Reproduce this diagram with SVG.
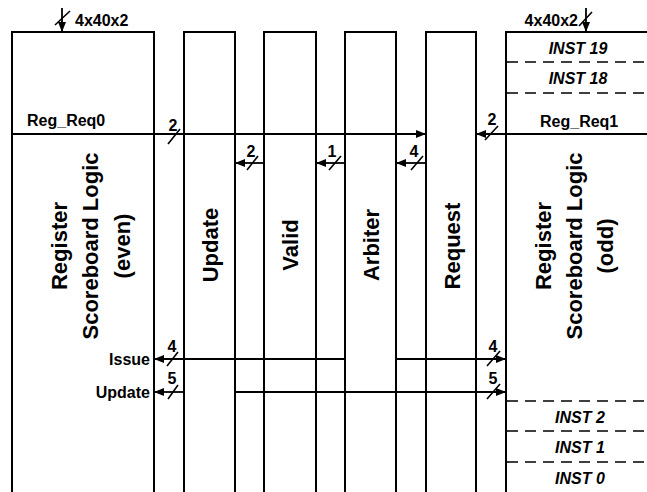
<svg xmlns="http://www.w3.org/2000/svg" width="647" height="492" viewBox="0 0 647 492">
<style>
  .box { fill: none; stroke: #000; stroke-width: 2; }
  .ln { fill: none; stroke: #000; stroke-width: 1.8; }
  .sl { fill: none; stroke: #000; stroke-width: 1.6; }
  .dash { fill: none; stroke: #000; stroke-width: 1.6; stroke-dasharray: 11 7; }
  .t { font-family: "Liberation Sans", Arial, sans-serif; font-weight: bold; fill: #000; }
  .s16 { font-size: 16px; }
  .big { font-size: 22px; }
  .inst { font-family: "Liberation Sans", Arial, sans-serif; font-weight: bold; font-style: italic; font-size: 16px; fill: #000; text-anchor: middle; }
  .mid { text-anchor: middle; }
  .end { text-anchor: end; }
</style>
<defs>
  <marker id="ah" markerUnits="userSpaceOnUse" markerWidth="10" markerHeight="8" refX="10" refY="4" orient="auto">
    <path d="M0,0 L10,4 L0,8 z" fill="#000"/>
  </marker>
</defs>
<rect width="647" height="492" fill="#fff"/>

<g id="node-even">
  <path class="box" d="M12,492 V32 H154 V492"/>
  <text class="t big mid" transform="translate(0,246) rotate(-90)"><tspan x="0" y="67">Register</tspan><tspan x="0" y="98">Scoreboard Logic</tspan><tspan x="0" y="130">(even)</tspan></text>
  <text class="t s16" x="27" y="126">Reg_Req0</text>
  <text class="t s16 end" x="150" y="365">Issue</text>
  <text class="t s16 end" x="150" y="398">Update</text>
  <text class="t s16" x="75" y="26">4x40x2</text>
</g>

<g id="node-update">
  <path class="box" d="M184,492 V32 H235 V492"/>
  <text class="t big mid" transform="translate(209.5,245) rotate(-90)" y="8">Update</text>
</g>

<g id="node-valid">
  <path class="box" d="M264,492 V32 H316 V492"/>
  <text class="t big mid" transform="translate(290,245) rotate(-90)" y="8">Valid</text>
</g>

<g id="node-arbiter">
  <path class="box" d="M345,492 V32 H396 V492"/>
  <text class="t big mid" transform="translate(370.5,245) rotate(-90)" y="8">Arbiter</text>
</g>

<g id="node-request">
  <path class="box" d="M426,492 V32 H476 V492"/>
  <text class="t big mid" transform="translate(451,246) rotate(-90)" y="9">Request</text>
</g>

<g id="node-odd">
  <path class="box" d="M506,492 V32 H647"/>
  <line class="dash" x1="507" y1="62" x2="647" y2="62"/>
  <line class="dash" x1="507" y1="93" x2="647" y2="93"/>
  <line class="dash" x1="507" y1="401" x2="647" y2="401"/>
  <line class="dash" x1="507" y1="431" x2="647" y2="431"/>
  <line class="dash" x1="507" y1="462" x2="647" y2="462"/>
  <text class="inst" x="578" y="54">INST 19</text>
  <text class="inst" x="578" y="84">INST 18</text>
  <text class="inst" x="580" y="423">INST 2</text>
  <text class="inst" x="580" y="453">INST 1</text>
  <text class="inst" x="580" y="484">INST 0</text>
  <text class="t big mid" transform="translate(575,246) rotate(-90)"><tspan x="0" y="-24">Register</tspan><tspan x="0" y="7">Scoreboard Logic</tspan><tspan x="0" y="38">(odd)</tspan></text>
  <text class="t s16" x="540" y="127">Reg_Req1</text>
  <text class="t s16 end" x="578" y="26">4x40x2</text>
</g>

<g id="connectors">
  <line class="ln" x1="62" y1="8" x2="62" y2="32" marker-end="url(#ah)"/>
  <line class="sl" x1="55" y1="25" x2="70" y2="11"/>
  <line class="ln" x1="586" y1="8" x2="586" y2="32" marker-end="url(#ah)"/>
  <line class="sl" x1="579" y1="26" x2="592" y2="12"/>

  <line class="ln" x1="12" y1="134" x2="426" y2="134" marker-end="url(#ah)"/>
  <line class="sl" x1="168" y1="144" x2="180" y2="129"/>
  <text class="t s16 mid" x="173" y="131">2</text>

  <line class="ln" x1="647" y1="134" x2="476" y2="134" marker-end="url(#ah)"/>
  <line class="sl" x1="485" y1="140" x2="498" y2="126"/>
  <text class="t s16 mid" x="492" y="125">2</text>

  <line class="ln" x1="264" y1="163" x2="235" y2="163" marker-end="url(#ah)"/>
  <line class="sl" x1="247" y1="170" x2="258" y2="156"/>
  <text class="t s16 mid" x="251" y="157">2</text>

  <line class="ln" x1="345" y1="163" x2="316" y2="163" marker-end="url(#ah)"/>
  <line class="sl" x1="329" y1="170" x2="341" y2="156"/>
  <text class="t s16 mid" x="332" y="157">1</text>

  <line class="ln" x1="426" y1="163" x2="396" y2="163" marker-end="url(#ah)"/>
  <line class="sl" x1="411" y1="170" x2="423" y2="156"/>
  <text class="t s16 mid" x="414" y="157">4</text>

  <line class="ln" x1="345" y1="359" x2="154" y2="359" marker-end="url(#ah)"/>
  <line class="sl" x1="167" y1="366" x2="178" y2="352"/>
  <text class="t s16 mid" x="172" y="352">4</text>
  <line class="ln" x1="396" y1="359" x2="506" y2="359" marker-end="url(#ah)"/>
  <line class="sl" x1="487" y1="366" x2="500" y2="351"/>
  <text class="t s16 mid" x="493" y="352">4</text>

  <line class="ln" x1="184" y1="392" x2="154" y2="392" marker-end="url(#ah)"/>
  <line class="sl" x1="168" y1="399" x2="178" y2="385"/>
  <text class="t s16 mid" x="172" y="384">5</text>
  <line class="ln" x1="235" y1="392" x2="506" y2="392" marker-end="url(#ah)"/>
  <line class="sl" x1="487" y1="399" x2="500" y2="384"/>
  <text class="t s16 mid" x="493" y="384">5</text>
</g>
</svg>
